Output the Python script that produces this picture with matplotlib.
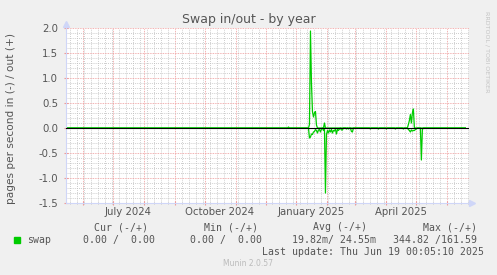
import matplotlib
matplotlib.use("Agg")
import matplotlib.pyplot as plt
import matplotlib.dates as mdates
from matplotlib.ticker import MultipleLocator, NullFormatter
from matplotlib.patches import Rectangle
import pandas as pd
from datetime import datetime

# ---------------- data ----------------
range_start = "2024-05-15"
range_end = "2025-06-19"

# swap out (+) : non-zero daily values
out_dates = ["2024-12-24", "2025-01-14", "2025-01-15", "2025-01-16", "2025-01-17",
             "2025-01-18", "2025-01-19", "2025-01-20", "2025-01-21", "2025-01-29",
             "2025-04-23", "2025-04-24", "2025-04-25", "2025-04-26", "2025-04-27",
             "2025-04-28"]
out_vals = [0.02, 0.07, 1.94, 0.9, 0.33,
            0.22, 0.30, 0.33, 0.06, 0.10,
            0.07, 0.15, 0.27, 0.10, 0.30,
            0.38]

# swap in (-) : non-zero daily magnitudes (drawn negative)
in_dates = ["2025-01-14", "2025-01-15", "2025-01-16", "2025-01-17", "2025-01-18",
            "2025-01-19", "2025-01-20", "2025-01-21", "2025-01-22", "2025-01-23",
            "2025-01-24", "2025-01-25", "2025-01-26", "2025-01-28", "2025-01-30",
            "2025-01-31", "2025-02-01", "2025-02-02", "2025-02-03", "2025-02-04",
            "2025-02-05", "2025-02-06", "2025-02-07", "2025-02-08", "2025-02-09",
            "2025-02-10", "2025-02-11", "2025-02-12", "2025-02-13", "2025-02-15",
            "2025-02-16", "2025-02-20", "2025-02-22", "2025-02-25", "2025-02-26",
            "2025-03-16", "2025-03-24", "2025-04-01", "2025-04-10", "2025-04-18",
            "2025-04-23", "2025-04-24", "2025-04-25", "2025-04-26", "2025-04-27",
            "2025-04-28", "2025-04-29", "2025-04-30", "2025-05-01", "2025-05-06",
            "2025-05-07"]
in_vals = [0.20, 0.18, 0.12, 0.13, 0.08,
           0.07, 0.03, 0.05, 0.10, 0.04,
           0.03, 0.08, 0.02, 0.05, 1.30,
           0.13, 0.05, 0.10, 0.04, 0.08,
           0.03, 0.10, 0.05, 0.06, 0.02,
           0.12, 0.03, 0.05, 0.02, 0.04,
           0.04, 0.02, 0.02, 0.07, 0.08,
           0.02, 0.02, 0.02, 0.02, 0.02,
           0.03, 0.05, 0.08, 0.04, 0.06,
           0.05, 0.05, 0.03, 0.02, 0.64,
           0.03]

xlabel_dates = ["2024-07-16", "2024-10-16", "2025-01-16", "2025-04-16"]
xlabel_texts = ["July 2024", "October 2024", "January 2025", "April 2025"]

title = "Swap in/out - by year"
ylabel = "pages per second in (-) / out (+)"
legend_headers = ["Cur (-/+)", "Min (-/+)", "Avg (-/+)", "Max (-/+)"]
legend_values = ["0.00 /  0.00", "0.00 /  0.00", "19.82m/ 24.55m", "344.82 /161.59"]
series_name = "swap"
last_update = "Last update: Thu Jun 19 00:05:10 2025"
footer = "Munin 2.0.57"
side_text = "RRDTOOL / TOBI OETIKER"

# ---------------- build daily series ----------------
days = pd.date_range(range_start, range_end, freq="D")
out_s = pd.Series(0.0, index=days)
out_s.loc[pd.to_datetime(out_dates)] = out_vals
in_s = pd.Series(0.0, index=days)
in_s.loc[pd.to_datetime(in_dates)] = in_vals
xd = days.to_pydatetime()

# ---------------- figure ----------------
W, H = 497, 275
BG = "#F0F0F0"
FONT = "#555555"
fig = plt.figure(figsize=(W / 100, H / 100), dpi=100, facecolor=BG)

L, R, T, B = 66, 469, 28, 203
ax = fig.add_axes([L / W, 1 - B / H, (R - L) / W, (B - T) / H])
ax.set_facecolor("#FFFFFF")

ax.plot(xd, out_s.values, color="#00CC00", lw=0.9, zorder=2)
ax.plot(xd, -in_s.values, color="#00CC00", lw=0.9, zorder=2)
ax.axhline(0, color="black", lw=0.8, zorder=3)

ax.set_xlim(datetime(2024, 5, 15, 8), datetime(2025, 6, 22, 16))
ax.set_ylim(-1.5, 2.0)

ax.xaxis.set_major_locator(mdates.MonthLocator())
ax.xaxis.set_minor_locator(mdates.WeekdayLocator(byweekday=mdates.SU))
ax.xaxis.set_major_formatter(NullFormatter())
ax.xaxis.set_minor_formatter(NullFormatter())
ax.yaxis.set_major_locator(MultipleLocator(0.5))
ax.yaxis.set_minor_locator(MultipleLocator(0.1))
ax.yaxis.set_major_formatter(matplotlib.ticker.FormatStrFormatter("%.1f"))

ax.grid(which="minor", color="#BDBDBD", lw=0.6, linestyle=(0, (1, 1.5)), zorder=0)
ax.grid(which="major", color="#EE9999", lw=0.6, linestyle=(0, (1, 1)), zorder=1)

ax.tick_params(axis="x", which="major", length=3, direction="inout", color="#EE9999")
ax.tick_params(axis="x", which="minor", length=2, direction="inout", color="#BDBDBD")
ax.tick_params(axis="y", which="major", length=3, direction="inout", color="#EE9999",
               labelsize=7.3, labelcolor=FONT, pad=4)
ax.tick_params(axis="y", which="minor", length=0)

for s in ["top", "right"]:
    ax.spines[s].set_visible(False)
for s in ["left", "bottom"]:
    ax.spines[s].set_color("#CFD6F8")
    ax.spines[s].set_linewidth(0.8)

# arrows on axes
ax.plot([1.0 + 3 / (R - L)], [0], marker=">", ms=4, color="#CFD6F8",
        transform=ax.transAxes, clip_on=False)
ax.plot([0], [1.0 + 4 / (B - T)], marker="^", ms=4, color="#CFD6F8",
        transform=ax.transAxes, clip_on=False)

# month labels centered mid-month
for d, t in zip(xlabel_dates, xlabel_texts):
    ax.text(pd.Timestamp(d).to_pydatetime(), -0.05, t, transform=ax.get_xaxis_transform(),
            ha="center", va="center", fontsize=7.3, color=FONT)

def ftxt(x, y, s, **kw):
    fig.text(x / W, 1 - y / H, s, **kw)

ftxt(248.5, 20, title, ha="center", va="center", fontsize=9, color=FONT)
ftxt(11, 119, ylabel, ha="center", va="center", rotation=90, fontsize=7.6, color=FONT)
ftxt(487, 52, side_text, ha="center", va="center", rotation=270, fontsize=4.6, color="#C4C4C4")

mono = dict(family="DejaVu Sans Mono", fontsize=7.15, color=FONT, va="center", ha="left")
for x, s in zip([94.3, 204, 313, 422.7], legend_headers):
    ftxt(x, 227.3, s, **mono)
for x, s in zip([83.3, 190, 291.7, 392.7], legend_values):
    ftxt(x, 240, s, **mono)
ftxt(26.7, 240, series_name, **mono)
ftxt(261.7, 251.7, last_update, **mono)
ftxt(247.8, 263.3, footer, ha="center", va="center", fontsize=5.5, color="#BBBBBB")

fig.add_artist(Rectangle((14 / W, 1 - 242.7 / H), 6 / W, 5.4 / H,
                         transform=fig.transFigure, color="#00CC00"))

fig.savefig("out.png", dpi=100, facecolor=BG)
